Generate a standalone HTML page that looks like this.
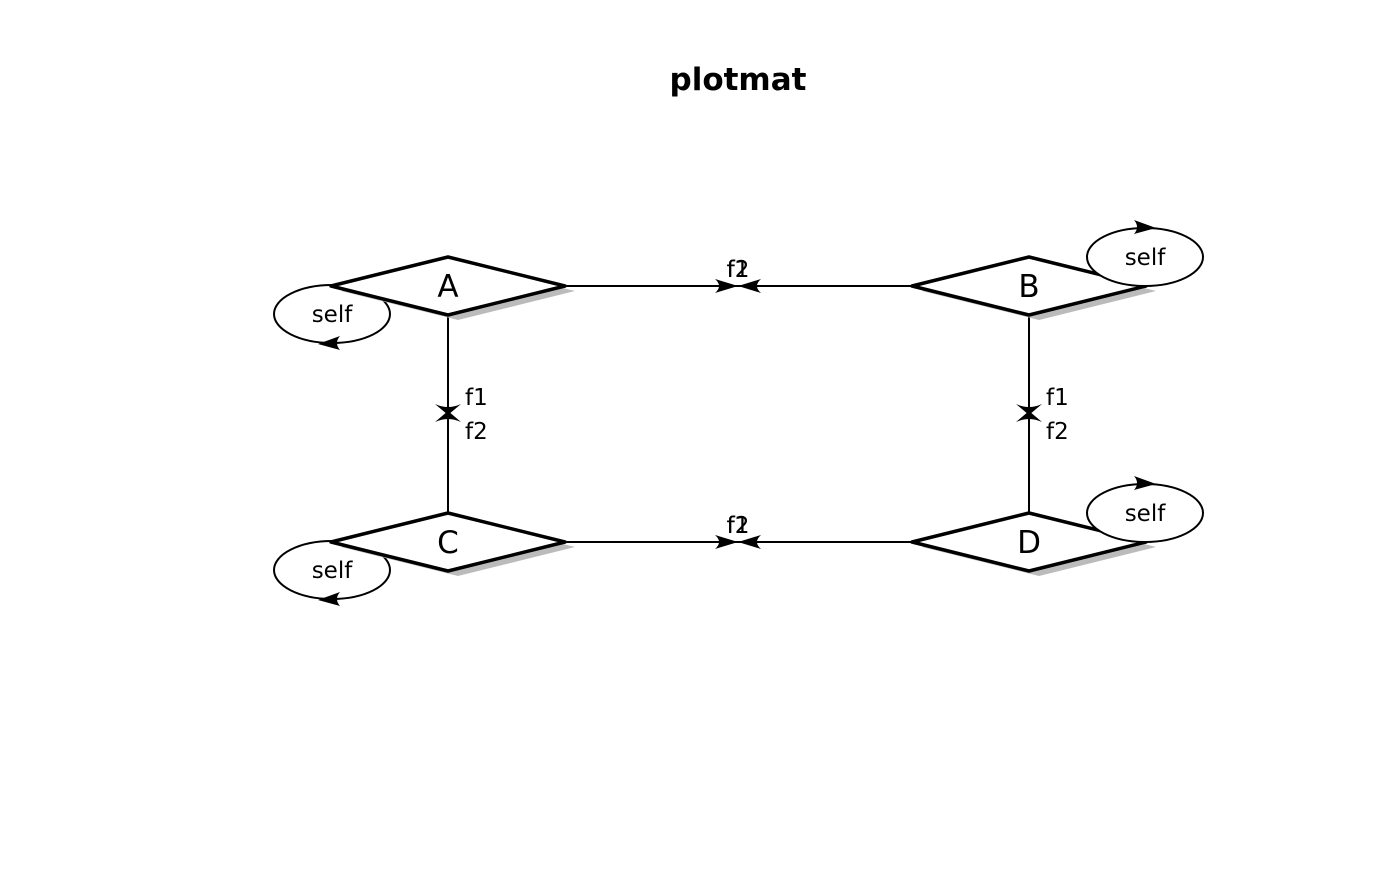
<!DOCTYPE html>
<html><head><meta charset="utf-8"><style>
html,body{margin:0;padding:0;background:#fff;}
svg text{font-family:"DejaVu Sans","Liberation Sans",sans-serif;}
</style></head><body>
<svg width="1400" height="866" viewBox="0 0 1400 866" xmlns="http://www.w3.org/2000/svg">
<rect width="1400" height="866" fill="#fff"/>
<text x="738" y="90" font-size="31" font-weight="bold" text-anchor="middle">plotmat</text>
<defs>
<path id="ah" d="M0,0 L-23,-7 Q-15,0 -23,7Z"/>
<path id="av" d="M0,0 L-13,-11 Q0,-5 13,-11Z"/>
</defs>
<g stroke="#000" stroke-width="2" fill="none">
<line x1="565" y1="286" x2="912" y2="286"/>
<line x1="565" y1="542" x2="912" y2="542"/>
<line x1="448" y1="315" x2="448" y2="513"/>
<line x1="1029" y1="315" x2="1029" y2="513"/>
</g>
<g fill="#000">
<use href="#ah" transform="translate(738,286)"/>
<use href="#ah" transform="translate(738,286) scale(-1,1)"/>
<use href="#ah" transform="translate(738,542)"/>
<use href="#ah" transform="translate(738,542) scale(-1,1)"/>
<use href="#av" transform="translate(448,415)"/>
<use href="#av" transform="translate(448,411) scale(1,-1)"/>
<use href="#av" transform="translate(1029,415)"/>
<use href="#av" transform="translate(1029,411) scale(1,-1)"/>
</g>
<g font-size="23">
<text x="738" y="277" text-anchor="middle">f1</text>
<text x="738" y="277" text-anchor="middle">f2</text>
<text x="738" y="533" text-anchor="middle">f1</text>
<text x="738" y="533" text-anchor="middle">f2</text>
<text x="465" y="405">f1</text>
<text x="465" y="439">f2</text>
<text x="1046" y="405">f1</text>
<text x="1046" y="439">f2</text>
</g>
<g stroke="#000" stroke-width="2" fill="#fff">
<ellipse cx="332" cy="314" rx="58" ry="29"/>
<ellipse cx="332" cy="570" rx="58" ry="29"/>
</g>
<g fill="#000">
<path d="M318,344 L340,336 Q334,343 340,350Z"/>
<path d="M318,600 L340,592 Q334,599 340,606Z"/>
</g>
<g>
<polygon points="341,291 458,262 575,291 458,320" fill="#bbb"/>
<polygon points="331,286 448,257 565,286 448,315" fill="#fff" stroke="#000" stroke-width="3.5" stroke-linejoin="round"/>
<polygon points="922,291 1039,262 1156,291 1039,320" fill="#bbb"/>
<polygon points="912,286 1029,257 1146,286 1029,315" fill="#fff" stroke="#000" stroke-width="3.5" stroke-linejoin="round"/>
<polygon points="341,547 458,518 575,547 458,576" fill="#bbb"/>
<polygon points="331,542 448,513 565,542 448,571" fill="#fff" stroke="#000" stroke-width="3.5" stroke-linejoin="round"/>
<polygon points="922,547 1039,518 1156,547 1039,576" fill="#bbb"/>
<polygon points="912,542 1029,513 1146,542 1029,571" fill="#fff" stroke="#000" stroke-width="3.5" stroke-linejoin="round"/>
</g>
<g font-size="31" text-anchor="middle">
<text x="448" y="297">A</text>
<text x="1029" y="297">B</text>
<text x="448" y="553">C</text>
<text x="1029" y="553">D</text>
</g>
<g stroke="#000" stroke-width="2" fill="#fff">
<ellipse cx="1145" cy="257" rx="58" ry="29"/>
<ellipse cx="1145" cy="513" rx="58" ry="29"/>
</g>
<g fill="#000">
<path d="M1156,228 L1134,220 Q1140,227 1134,234Z"/>
<path d="M1156,484 L1134,476 Q1140,483 1134,490Z"/>
</g>
<g font-size="23" text-anchor="middle">
<text x="332" y="322">self</text>
<text x="332" y="578">self</text>
<text x="1145" y="265">self</text>
<text x="1145" y="521">self</text>
</g>
</svg>
</body></html>
